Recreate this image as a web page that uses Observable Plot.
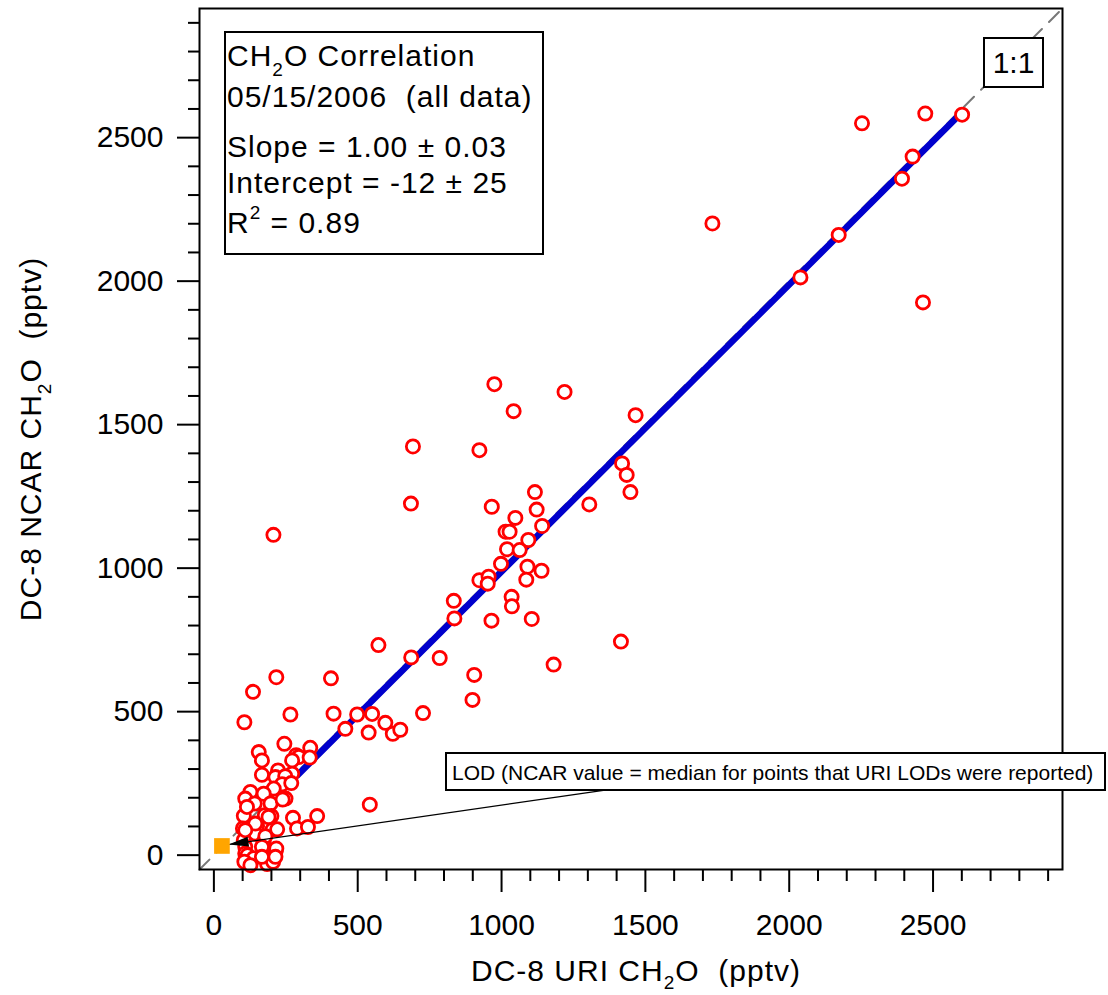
<!DOCTYPE html>
<html><head><meta charset="utf-8">
<script src="https://cdn.jsdelivr.net/npm/d3@7"></script>
<script src="https://cdn.jsdelivr.net/npm/@observablehq/plot@0.6"></script>
<style>
html,body{margin:0;padding:0;background:#fff;}
#chart{position:relative;width:1108px;height:995px;}
svg text, svg tspan{white-space:pre;}
</style></head><body><div id="chart"></div>
<script>
// ---- data (pptv) ----
const uriX = [2253,2473,2601,2429,2392,1733,2172,2039,2465,
  975,1219,1042,1466,692,923,1419,1435,1448,685,966,1116,1305,1122,1048,1141,1014,1028,1093,1019,1063,998,1090,1139,1086,923,955,952,834,1035,207,
  1036,836,965,1105,1415,572,686,785,1181,905,899,550,727,596,538,622,648,542,
  217,407,136,266,416,498,106,457,245,335,156,167,286,295,333,272,223,272,167,214,248,237,269,208,127,173,249,109,142,197,239,359,275,104,177,200,289,327,150,204,220,101,144,104,173,179,109,109,214,217,117,138,106,127,185,206,214,167,144,190,115,109,167];
const ncarY = [2550,2584,2580,2434,2357,2201,2161,2013,1926,
  1641,1614,1547,1533,1424,1411,1365,1325,1265,1225,1214,1265,1222,1204,1175,1147,1127,1127,1098,1066,1063,1015,1005,991,960,958,970,946,886,900,1116,
  867,825,817,823,744,732,689,687,664,628,541,492,495,461,427,423,437,176,
  620,616,569,490,493,490,463,440,388,374,359,330,348,342,340,330,295,284,280,272,275,247,251,232,220,214,197,197,180,180,194,136,130,137,139,136,93,98,102,89,90,93,75,52,46,66,29,6,11,23,0,-11,-23,-35,-31,-23,-6,29,110,133,168,87,-6];
const majorTicks = [0, 500, 1000, 1500, 2000, 2500];
const minorTicks = [100,200,300,400,600,700,800,900,1100,1200,1300,1400,1600,1700,1800,1900,2100,2200,2300,2400,2600,2700,2800,2900];
const axisDomain = [-50, 2950];
const fitSlope = 1.00, fitSlopeErr = 0.03, fitIntercept = -12, fitInterceptErr = 25, fitR2 = 0.89;
const fitXRange = [290, 2601];
const lodPoint = [{x: 28, y: 32}];
const lodArrow = [{x1: 1378, y1: 229, x2: 51, y2: 37}];
const xLabel = ["DC-8 URI CH", "2", "O  (pptv)"];
const yLabel = ["DC-8 NCAR CH", "2", "O  (pptv)"];
const lodText = "LOD (NCAR value = median for points that URI LODs were reported)";

const points = uriX.map((x, i) => ({x, y: ncarY[i]}));
const fitLine = fitXRange.map(x => ({x, y: fitSlope * x + fitIntercept}));
const oneToOne = axisDomain.map(v => ({x: v, y: v}));
const arrowHead = {draw(ctx) { ctx.moveTo(0, 0); ctx.lineTo(20, -5); ctx.lineTo(20, 5); ctx.closePath(); }};
const FONT = "'Liberation Sans', Arial, Helvetica, sans-serif";
const fmt = d => String(d);

const chart = Plot.plot({
  width: 1108, height: 995,
  marginLeft: 199, marginRight: 46, marginTop: 8, marginBottom: 126,
  x: {domain: axisDomain, axis: null},
  y: {domain: axisDomain, axis: null},
  style: {fontFamily: FONT, fontSize: "30px", color: "black", background: "white"},
  marks: [
    Plot.line(oneToOne, {x: "x", y: "y", stroke: "#777", strokeWidth: 2, strokeDasharray: "14,10"}),
    Plot.line(fitLine, {x: "x", y: "y", stroke: "#0000cc", strokeWidth: 6.5}),
    Plot.dot(points, {x: "x", y: "y", r: 6.6, stroke: "#ff0000", strokeWidth: 2.8, fill: "white"}),
    Plot.link(lodArrow, {x1: "x1", y1: "y1", x2: "x2", y2: "y2", stroke: "black", strokeWidth: 1.2}),
    Plot.dot(lodArrow, {x: "x2", y: "y2", symbol: arrowHead, fill: "black", stroke: "none", rotate: -8.3}),
    Plot.dot(lodPoint, {x: "x", y: "y", symbol: "square", r: 8.85, fill: "#ffa500", stroke: "none"}),
    Plot.frame({stroke: "black", strokeWidth: 2}),
    Plot.axisX(majorTicks, {tickSize: 23, tickPadding: 21, strokeWidth: 2, fontSize: 30, tickFormat: fmt, label: null}),
    Plot.axisX(minorTicks, {tickSize: 12, tickFormat: () => "", strokeWidth: 2, label: null}),
    Plot.axisY(majorTicks, {tickSize: 22, tickPadding: 14, strokeWidth: 2, fontSize: 30, tickFormat: fmt, label: null}),
    Plot.axisY(minorTicks, {tickSize: 11, tickFormat: () => "", strokeWidth: 2, label: null})
  ]
});
document.getElementById("chart").appendChild(chart);

// ---- annotations ----
const svg = d3.select(chart);
const ann = svg.append("g").attr("font-family", FONT).attr("fill", "black");

function richText(g, x, y, parts, size, anchor, spacing, subShift) {
  const t = g.append("text").attr("x", x).attr("y", y).attr("font-size", size)
    .attr("text-anchor", anchor || "start").attr("letter-spacing", spacing == null ? 1 : spacing);
  let shift = 0;
  parts.forEach(p => {
    const [s, kind] = Array.isArray(p) ? p : [p, null];
    let target = kind === "sub" ? (subShift || 10) : kind === "sup" ? -14 : 0;
    const ts = t.append("tspan").text(s).attr("dy", target - shift);
    if (kind) ts.attr("font-size", Math.round(size * 0.62));
    shift = target;
  });
  return t;
}

// info box
ann.append("rect").attr("x", 225).attr("y", 32).attr("width", 318).attr("height", 222)
  .attr("fill", "white").attr("stroke", "black").attr("stroke-width", 2);
richText(ann, 227, 65.7, ["CH", ["2", "sub"], "O Correlation"], 30);
richText(ann, 227, 107.3, ["05/15/2006  (all data)"], 30);
richText(ann, 227, 157.3, [`Slope = ${fitSlope.toFixed(2)} ± ${fitSlopeErr.toFixed(2)}`], 30);
richText(ann, 227, 192.7, [`Intercept = ${fitIntercept} ± ${fitInterceptErr}`], 30);
richText(ann, 227, 233.3, ["R", ["2", "sup"], ` = ${fitR2.toFixed(2)}`], 30);

// 1:1 box
ann.append("rect").attr("x", 984).attr("y", 38).attr("width", 59).attr("height", 49)
  .attr("fill", "white").attr("stroke", "black").attr("stroke-width", 2);
richText(ann, 1013.5, 72.7, ["1:1"], 30, "middle", 0);

// LOD box
ann.append("rect").attr("x", 446).attr("y", 753).attr("width", 659).attr("height", 37)
  .attr("fill", "white").attr("stroke", "black").attr("stroke-width", 2);
richText(ann, 452, 780, [lodText], 21, "start", 0);

// axis labels
richText(ann, 636, 981, [xLabel[0], [xLabel[1], "sub"], xLabel[2]], 30, "middle", 1, 8);
const yl = ann.append("g").attr("transform", "translate(41,439) rotate(-90)");
richText(yl, 0, 0, [yLabel[0], [yLabel[1], "sub"], yLabel[2]], 30, "middle");
</script></body></html>
